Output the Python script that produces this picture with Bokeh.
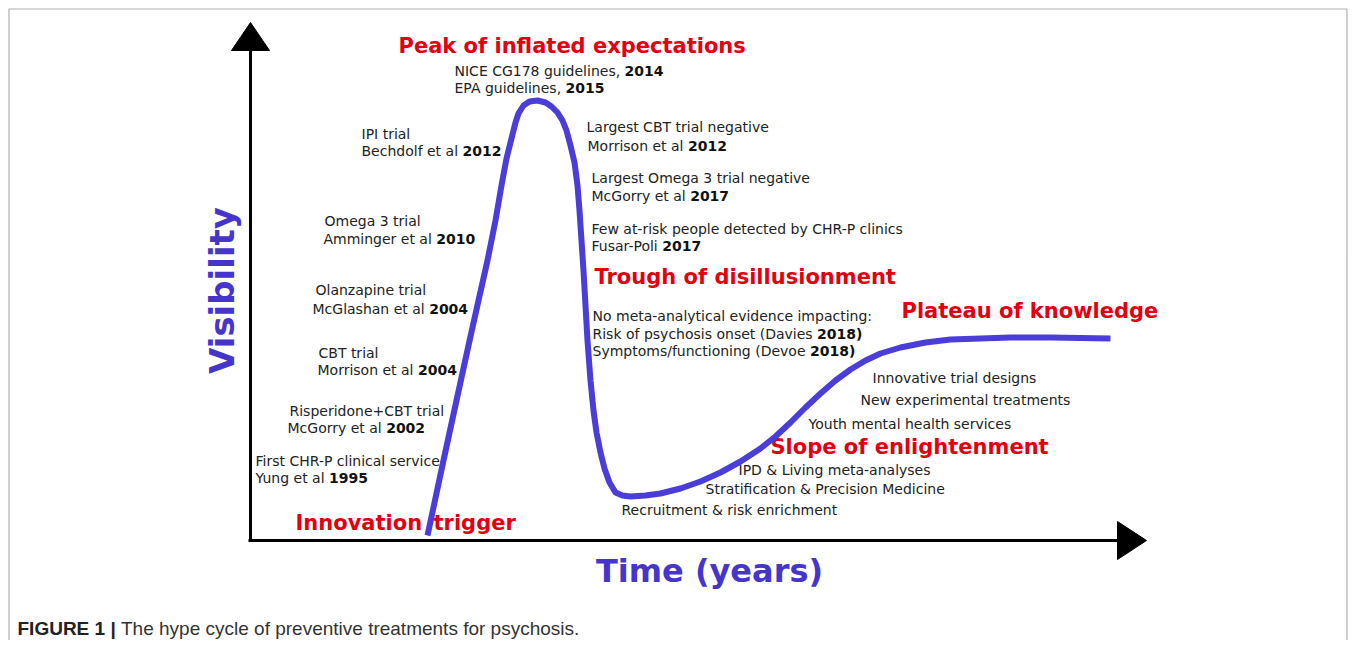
import glob
import math
from bokeh.plotting import figure
from bokeh.models import Range1d
from bokeh.core.properties import value
from bokeh.embed import file_html
from bokeh.resources import INLINE

# ---------------- data (time / visibility, arbitrary units measured from the origin) ----------------
time = [177, 193, 206, 218, 228, 237, 245, 251, 256, 261, 265, 268, 273, 279, 287,
        295, 301, 307, 312, 316, 320, 324, 327, 329, 331, 333, 335, 337, 340, 343,
        346, 350, 354, 359, 365, 372, 380, 395, 410, 430, 450, 470, 490, 510, 525,
        540, 555, 570, 585, 600, 615, 630, 650, 675, 700, 730, 760, 800, 860]
visibility = [5, 80, 140, 195, 240, 280, 320, 355, 382, 402, 418, 427, 435, 439, 440,
              438, 434, 428, 420, 410, 395, 378, 355, 330, 300, 270, 235, 200, 160, 130,
              108, 88, 72, 58, 48, 45, 44, 45, 47, 52, 59, 68, 79, 92, 104,
              118, 133, 147, 160, 171, 180, 187, 193, 198, 201, 202, 203, 203, 202]

phase_labels = ["Peak of inflated expectations", "Trough of disillusionment",
                "Plateau of knowledge", "Slope of enlightenment", "Innovation", "trigger"]

event_regular = ["NICE CG178 guidelines, ", "EPA guidelines, ", "IPI trial", "Bechdolf et al ",
                 "Omega 3 trial", "Amminger et al ", "Olanzapine trial", "McGlashan et al ",
                 "CBT trial", "Morrison et al ", "Risperidone+CBT trial", "McGorry et al ",
                 "First CHR-P clinical service", "Yung et al ",
                 "Largest CBT trial negative", "Morrison et al ",
                 "Largest Omega 3 trial negative", "McGorry et al ",
                 "Few at-risk people detected by CHR-P clinics", "Fusar-Poli ",
                 "No meta-analytical evidence impacting:", "Risk of psychosis onset (Davies ",
                 "Symptoms/functioning (Devoe ",
                 "Innovative trial designs", "New experimental treatments",
                 "Youth mental health services", "IPD & Living meta-analyses",
                 "Stratification & Precision Medicine", "Recruitment & risk enrichment"]
event_bold = ["2014", "2015", "", "2012", "", "2010", "", "2004", "", "2004", "", "2002",
              "", "1995", "", "2012", "", "2017", "", "2017", "", "2018)", "2018)",
              "", "", "", "", "", ""]

# ---------------- layout (screen pixel positions of labels) ----------------
event_sx = [454, 454, 361, 361, 324, 323, 315, 312, 318, 317, 289, 287, 255, 255,
            586, 587, 591, 591, 591, 591, 592, 592, 592, 872, 860, 808, 738, 705, 621]
event_sy = [70, 87, 133, 150, 220, 238, 289, 308, 352, 369, 410, 427, 460, 477,
            126, 145, 177, 195, 228, 245, 315, 333, 350, 377, 399, 423, 469, 488, 509]
phase_sx = [398, 594, 901, 770, 295, 433]
phase_sy = [45, 276, 310, 446, 522, 522]

OX, OY = 250, 540   # origin of the diagram on screen


def X(sx):
    return sx - OX


def Y(sy):
    return OY - sy


W, H = 1350, 640

# ---------------- text measuring ----------------
try:
    from PIL import ImageFont
except Exception:
    ImageFont = None

_font_cache = {}


def find_font(fname):
    for pat in ["/usr/share/fonts/**/" + fname, "/usr/local/share/fonts/**/" + fname,
                "/usr/share/fonts/" + fname]:
        hits = glob.glob(pat, recursive=True)
        if hits:
            return hits[0]
    return None


def text_width(s, fname, size, fallback=0.6):
    key = (fname, size)
    if key not in _font_cache:
        path = find_font(fname)
        f = None
        if ImageFont is not None and path:
            try:
                f = ImageFont.truetype(path, size)
            except Exception:
                f = None
        _font_cache[key] = f
    f = _font_cache[key]
    if f is not None:
        return f.getlength(s)
    return len(s) * size * fallback


# ---------------- figure ----------------
p = figure(width=W, height=H, output_backend="svg", toolbar_location=None,
           x_range=Range1d(-OX, W - OX), y_range=Range1d(OY - H, OY),
           min_border=0, outline_line_color=None)
p.axis.visible = False
p.grid.visible = False
p.background_fill_color = "white"
p.border_fill_color = "white"

# figure border (light gray, open at the bottom)
p.line([X(8.5), X(8.5), X(1346.5), X(1346.5)], [Y(700), Y(8.5), Y(8.5), Y(700)],
       line_color="#b0b0b0", line_width=1.2)

# axes with arrow heads
p.line([X(250), X(250)], [Y(541), Y(46)], line_color="black", line_width=3)
p.line([X(248), X(1120)], [Y(540), Y(540)], line_color="black", line_width=3)
p.patches([[X(250), X(231), X(269)], [X(1146), X(1117), X(1117)]],
          [[Y(22), Y(50), Y(50)], [Y(540), Y(521), Y(559)]],
          fill_color="black", line_color="black")

FONT = "DejaVu Sans"
FS = 14

# phase labels (drawn before the curve so the curve crosses "Innovation trigger")
p.text(x=[X(v) for v in phase_sx], y=[Y(v) for v in phase_sy], text=phase_labels,
       text_font=value(FONT), text_font_size="21px", text_font_style="bold",
       text_baseline="middle", text_align="left", text_color="#e3000f")

# hype curve
p.line(time, visibility, line_color="#4a3dd8", line_width=6,
       line_join="round", line_cap="butt")

# event annotations (regular + bold part)
reg_x, reg_y, reg_t = [], [], []
b_x, b_y, b_t = [], [], []
for r, b, sx, sy in zip(event_regular, event_bold, event_sx, event_sy):
    reg_x.append(X(sx)); reg_y.append(Y(sy)); reg_t.append(r)
    if b:
        w = text_width(r, "DejaVuSans.ttf", FS)
        b_x.append(X(sx + w)); b_y.append(Y(sy)); b_t.append(b)

p.text(x=reg_x, y=reg_y, text=reg_t, text_font=value(FONT), text_font_size=f"{FS}px",
       text_baseline="middle", text_align="left", text_color="#222222")
p.text(x=b_x, y=b_y, text=b_t, text_font=value(FONT), text_font_size=f"{FS}px",
       text_font_style="bold", text_baseline="middle", text_align="left",
       text_color="#111111")

# axis titles
p.text(x=[X(709)], y=[Y(570)], text=["Time (years)"], text_font=value(FONT),
       text_font_size="32px", text_font_style="bold", text_baseline="middle",
       text_align="center", text_color="#4535cc")
p.text(x=[X(221)], y=[Y(290)], text=["Visibility"], text_font=value(FONT),
       text_font_size="34px", text_font_style="bold", text_baseline="middle",
       text_align="center", angle=math.pi / 2, text_color="#4535cc")

# caption
cap_bold = "FIGURE 1 | "
cap_reg = "The hype cycle of preventive treatments for psychosis."
CFS = 19
wb = text_width(cap_bold, "LiberationSans-Bold.ttf", CFS)
p.text(x=[X(17)], y=[Y(628)], text=[cap_bold], text_font=value("Liberation Sans"),
       text_font_size=f"{CFS}px", text_font_style="bold", text_baseline="middle",
       text_align="left", text_color="#222222")
p.text(x=[X(17 + wb)], y=[Y(628)], text=[cap_reg], text_font=value("Liberation Sans"),
       text_font_size=f"{CFS}px", text_baseline="middle", text_align="left",
       text_color="#333333")

open("out.html", "w").write(file_html(p, INLINE))
